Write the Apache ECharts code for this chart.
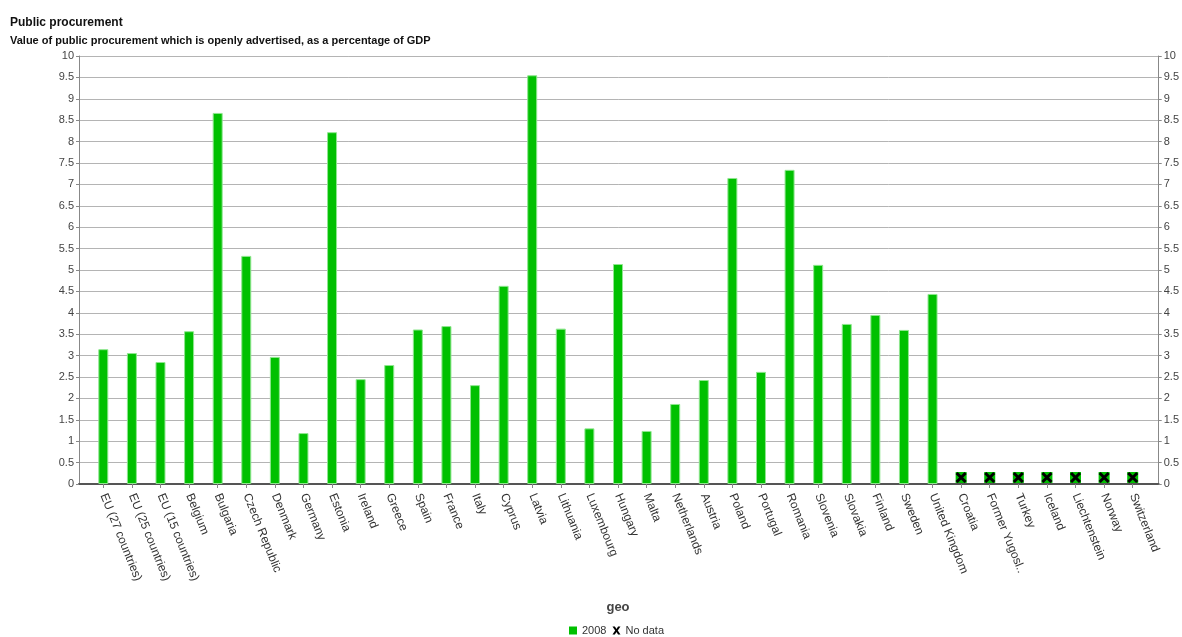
<!DOCTYPE html>
<html>
<head>
<meta charset="utf-8">
<title>Public procurement</title>
<script src="https://cdn.jsdelivr.net/npm/echarts@6/dist/echarts.min.js"></script>
<style>
  html, body { margin: 0; padding: 0; background: #fff; }
  #chart { width: 1182px; height: 637px; }
</style>
</head>
<body>
<div id="chart"></div>
<script>
// Countries / aggregates shown along the x axis
const categories = [
  'EU (27 countries)', 'EU (25 countries)', 'EU (15 countries)', 'Belgium', 'Bulgaria',
  'Czech Republic', 'Denmark', 'Germany', 'Estonia', 'Ireland', 'Greece', 'Spain',
  'France', 'Italy', 'Cyprus', 'Latvia', 'Lithuania', 'Luxembourg', 'Hungary', 'Malta',
  'Netherlands', 'Austria', 'Poland', 'Portugal', 'Romania', 'Slovenia', 'Slovakia',
  'Finland', 'Sweden', 'United Kingdom', 'Croatia',
  'Former Yugoslav Republic of Macedonia, the', 'Turkey', 'Iceland', 'Liechtenstein',
  'Norway', 'Switzerland'
];

// Openly advertised public procurement, % of GDP, 2008 (null = no data)
const values2008 = [
  3.15, 3.06, 2.85, 3.57, 8.67,
  5.33, 2.97, 1.19, 8.22, 2.45, 2.78, 3.61,
  3.69, 2.31, 4.63, 9.55, 3.63, 1.30, 5.14, 1.24,
  1.87, 2.43, 7.15, 2.62, 7.34, 5.12, 3.74,
  3.95, 3.60, 4.44, null,
  null, null, null, null,
  null, null
];

// Value axis tick labels
const yTicks = ['0', '0.5', '1', '1.5', '2', '2.5', '3', '3.5', '4', '4.5', '5',
                '5.5', '6', '6.5', '7', '7.5', '8', '8.5', '9', '9.5', '10'];

const titleText = 'Public procurement';
const subtitleText = 'Value of public procurement which is openly advertised, as a percentage of GDP';

const noDataPoints = [];
values2008.forEach(function (v, i) { if (v === null) noDataPoints.push([i, 0]); });

const FONT = 'Liberation Sans, Arial, sans-serif';
const GREEN = '#00c000';

const yLabelFmt = function (v) {
  const idx = Math.round(v / 0.5);
  return yTicks[idx] !== undefined ? yTicks[idx] : '';
};

const chart = echarts.init(document.getElementById('chart'), null, { renderer: 'canvas' });

chart.setOption({
  backgroundColor: '#ffffff',
  animation: false,
  textStyle: { fontFamily: FONT },
  title: [
    { text: titleText, left: 5, top: 12,
      textStyle: { fontSize: 12, fontWeight: 'bold', color: '#111', fontFamily: FONT } },
    { text: subtitleText, left: 5, top: 30,
      textStyle: { fontSize: 11, fontWeight: 'bold', color: '#111', fontFamily: FONT } }
  ],
  legend: {
    top: 620,
    left: 564,
    itemWidth: 8,
    itemHeight: 8,
    itemGap: 6,
    itemStyle: { borderWidth: 0 },
    textStyle: { fontSize: 11, color: '#333', fontFamily: FONT },
    data: [
      { name: '2008', icon: 'rect' },
      { name: 'No data',
        icon: 'path://M0,0 L3,0 L5,3 L7,0 L10,0 L6.6,5 L10,10 L7,10 L5,7 L3,10 L0,10 L3.4,5 Z' }
    ]
  },
  grid: [
    // frame with gridlines and both value axes
    { left: 79, right: 19, top: 56, bottom: 153, containLabel: false },
    // category band area holding the bars
    { left: 89, right: 35, top: 56, bottom: 153, containLabel: false }
  ],
  xAxis: [
    {
      gridIndex: 0, type: 'value', min: 0, max: 1,
      axisLine: { show: true, lineStyle: { color: '#555', width: 2 } },
      axisTick: { show: false }, axisLabel: { show: false }, splitLine: { show: false }
    },
    {
      gridIndex: 1, type: 'category', data: categories,
      name: 'geo', nameLocation: 'middle', nameGap: 117,
      nameTextStyle: { fontSize: 13, fontWeight: 'bold', color: '#444', fontFamily: FONT },
      axisLine: { show: false },
      axisTick: { show: true, alignWithLabel: true, length: 4, lineStyle: { color: '#888' } },
      axisLabel: {
        interval: 0, rotate: -68, fontSize: 12, color: '#333', margin: 10, fontFamily: FONT,
        formatter: function (s) { return s.length > 20 ? s.slice(0, 13) + '..' : s; }
      },
      splitLine: { show: false }
    }
  ],
  yAxis: [
    {
      gridIndex: 0, type: 'value', position: 'left', min: 0, max: 10, interval: 0.5,
      axisLine: { show: true, lineStyle: { color: '#888' } },
      axisTick: { show: true, length: 3, lineStyle: { color: '#888' } },
      axisLabel: { fontSize: 11, color: '#444', margin: 5, formatter: yLabelFmt, fontFamily: FONT },
      splitLine: { show: true, lineStyle: { color: '#b4b4b4', width: 1 } }
    },
    {
      gridIndex: 0, type: 'value', position: 'right', min: 0, max: 10, interval: 0.5,
      axisLine: { show: true, lineStyle: { color: '#888' } },
      axisTick: { show: true, length: 3, lineStyle: { color: '#888' } },
      axisLabel: { fontSize: 11, color: '#444', margin: 5, formatter: yLabelFmt, fontFamily: FONT },
      splitLine: { show: false }
    },
    {
      gridIndex: 1, type: 'value', min: 0, max: 10, interval: 0.5, show: false
    }
  ],
  series: [
    {
      name: '2008', type: 'bar', xAxisIndex: 1, yAxisIndex: 2,
      data: values2008, barWidth: 10,
      itemStyle: { color: GREEN, borderColor: '#8fe68f', borderWidth: 1 }
    },
    {
      name: 'No data', type: 'custom', xAxisIndex: 1, yAxisIndex: 2,
      data: noDataPoints,
      itemStyle: { color: '#000' },
      renderItem: function (params, api) {
        const p = api.coord([api.value(0), api.value(1)]);
        const s = 11;
        const x0 = p[0] - s / 2, y0 = p[1] - s - 1;
        return {
          type: 'group',
          children: [
            { type: 'rect', shape: { x: x0, y: y0, width: s, height: s },
              style: { fill: GREEN } },
            { type: 'line', shape: { x1: x0 + 1, y1: y0 + 1, x2: x0 + s - 1, y2: y0 + s - 1 },
              style: { stroke: '#000', lineWidth: 3 } },
            { type: 'line', shape: { x1: x0 + s - 1, y1: y0 + 1, x2: x0 + 1, y2: y0 + s - 1 },
              style: { stroke: '#000', lineWidth: 3 } }
          ]
        };
      }
    }
  ]
});
</script>
</body>
</html>
